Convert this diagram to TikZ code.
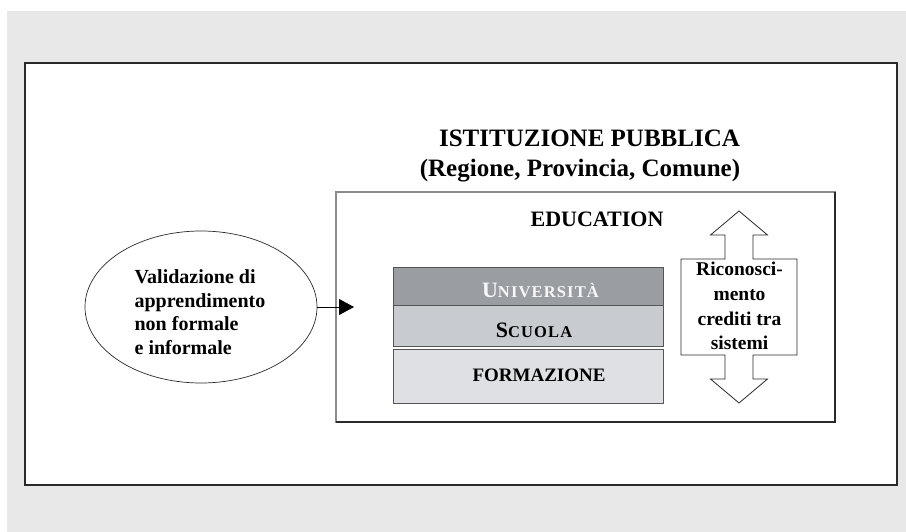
\documentclass[tikz,border=0pt]{standalone}
\usepackage{fontspec}
\setmainfont{Liberation Serif}
\usetikzlibrary{arrows.meta,shapes.geometric}
\definecolor{bggray}{HTML}{E8E8E8}
\definecolor{unifill}{HTML}{9A9EA3}
\definecolor{scuolafill}{HTML}{C8CBD0}
\definecolor{formfill}{HTML}{DFE0E4}
\definecolor{innerline}{HTML}{8C8C8C}
\definecolor{darkline}{HTML}{2A2A2A}
\definecolor{boxline}{HTML}{555555}
\newcommand{\fakesc}[2]{{\fontsize{22}{24}\selectfont #1}{\fontsize{16.5}{18}\selectfont\addfontfeature{LetterSpace=7}#2}}
\begin{document}
\begin{tikzpicture}[x=1pt,y=-1pt,
  every node/.style={inner sep=0pt,outer sep=0pt,font=\bfseries},
  layerbox/.style={draw=boxline,line width=0.9pt,anchor=north west,minimum width=270pt},
  txt/.style={anchor=base}
]
\useasboundingbox (0,0) rectangle (906,532);
\fill[bggray] (7,11) rectangle (906,532);
% outer frame
\node[draw=darkline,fill=white,line width=1.6pt,anchor=north west,minimum width=872pt,minimum height=422pt] (frame) at (25,63) {};
% titles
\node[txt,font=\bfseries\fontsize{25}{28}\selectfont] (title1) at (589.5,147) {ISTITUZIONE PUBBLICA};
\node[txt,font=\bfseries\fontsize{25}{28}\selectfont] (title2) at (580,177) {(Regione, Provincia, Comune)};
% inner box
\node[draw=innerline,line width=1.3pt,anchor=north west,minimum width=499pt,minimum height=230pt] (inner) at (336,192) {};
\draw[darkline,line width=1.3pt] (inner.south west) -- (inner.south east) -- (inner.north east);
\node[txt,font=\bfseries\fontsize{22}{24}\selectfont] (edu) at (597,227) {EDUCATION};
% layers
\node[layerbox,fill=unifill,minimum height=38pt] (uni) at (393,267) {};
\node[layerbox,fill=scuolafill,minimum height=41pt] (scuola) at (393,305) {};
\node[layerbox,fill=formfill,minimum height=54pt] (form) at (393,349) {};
\node[txt,text=white!94!gray] (unit) at (540.5,298) {\fakesc{U}{NIVERSITÀ}};
\node[txt] (scuolat) at (534,337) {\fakesc{S}{CUOLA}};
\node[txt,font=\bfseries\fontsize{19}{22}\selectfont] (formt) at (539,381.5) {FORMAZIONE};
% ellipse
\node[draw=darkline,line width=0.7pt,ellipse,minimum width=232pt,minimum height=152pt] (ell) at (201,307) {};
\node[align=left,font=\bfseries\fontsize{20}{23.5}\selectfont] (elltext) at (200,312) {Validazione di\\apprendimento\\non formale\\e informale};
\coordinate (tip) at (354,307);
\draw[black,line width=0.8pt,-{Triangle[length=15pt,width=16pt]}] (ell.east) -- (tip);
% double arrow
\draw[darkline,line width=0.8pt,fill=white]
  (739,211) -- (767.5,235) -- (753,235) -- (753,259) -- (797,259) -- (797,355)
  -- (753,355) -- (753,379) -- (767.5,379) -- (739,403) -- (710.5,379) -- (725,379)
  -- (725,355) -- (681,355) -- (681,259) -- (725,259) -- (725,235) -- (710.5,235) -- cycle;
\node[align=center,font=\bfseries\fontsize{19.5}{24.7}\selectfont] (ricon) at (739.5,306) {Riconosci-\\mento\\crediti tra\\sistemi};
\end{tikzpicture}
\end{document}
